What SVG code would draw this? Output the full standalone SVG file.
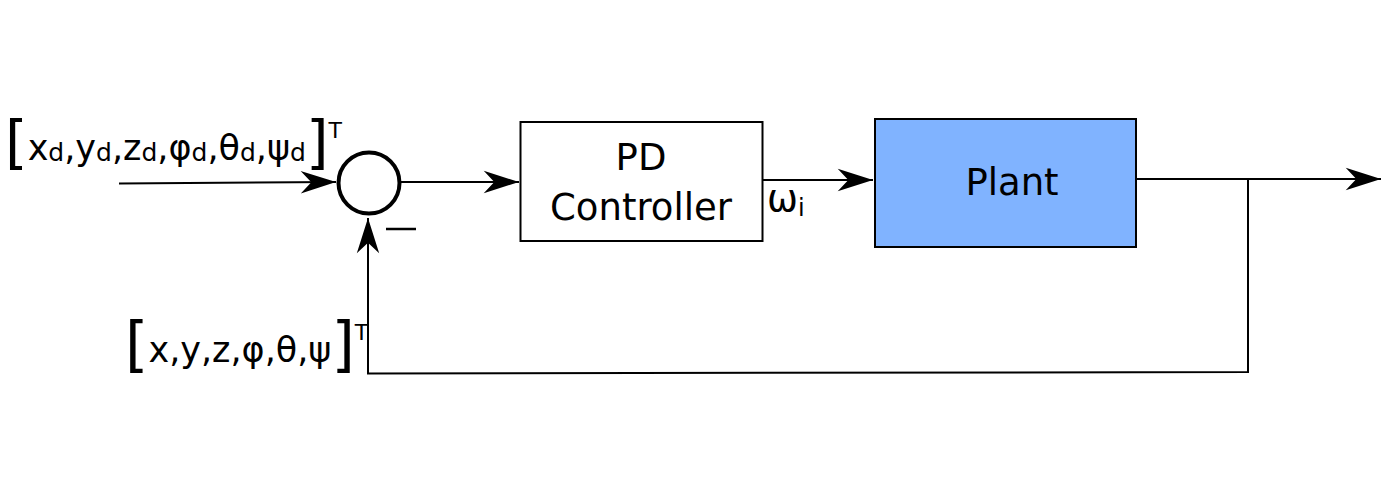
<svg xmlns="http://www.w3.org/2000/svg" width="1400" height="500" viewBox="0 0 1400 500">
<style>
text{font-family:"DejaVu Sans","Liberation Sans",sans-serif;fill:#000}
.box{stroke:#000;stroke-width:2}
.wire{fill:none;stroke:#000;stroke-width:2}
.sub{font-size:25px}
</style>
<defs>
<marker id="arr" markerUnits="userSpaceOnUse" markerWidth="40" markerHeight="30" viewBox="-32 -12 34 24" refX="0" refY="0" orient="auto">
<path d="M0,0 L-30,-9.5 L-21,0 L-30,9.5 Z" fill="#000"/>
</marker>
</defs>
<rect width="1400" height="500" fill="#fff"/>
<g id="connectors">
<path class="wire" d="M119,183.5 L336,182" marker-end="url(#arr)"/>
<path class="wire" d="M401,182 L519,182" marker-end="url(#arr)"/>
<path class="wire" d="M763,180 L873,180" marker-end="url(#arr)"/>
<path class="wire" d="M1137,179 L1381,179" marker-end="url(#arr)"/>
<path class="wire" d="M1248,179 L1248,372 L368,373.5 L368,218" marker-end="url(#arr)"/>
</g>
<g id="sum">
<circle cx="369" cy="183" r="30.5" fill="#fff" stroke="#000" stroke-width="4"/>
<line x1="386" y1="229" x2="416" y2="229" stroke="#000" stroke-width="2.5"/>
</g>
<g id="pd">
<rect class="box" x="520.5" y="122" width="242" height="119" fill="#fff"/>
<text x="641" y="170" font-size="37" text-anchor="middle">PD</text>
<text x="641" y="220" font-size="37" text-anchor="middle">Controller</text>
</g>
<g id="plant">
<rect class="box" x="875" y="119" width="261" height="128" fill="#80b3ff"/>
<text x="1012" y="195" font-size="37" text-anchor="middle">Plant</text>
</g>
<g id="labels">
<text x="5" y="160" font-size="35"><tspan font-size="58" dy="3">[</tspan><tspan dy="-3">x</tspan><tspan class="sub" dy="1">d</tspan><tspan dy="-1">,y</tspan><tspan class="sub" dy="1">d</tspan><tspan dy="-1">,z</tspan><tspan class="sub" dy="1">d</tspan><tspan dy="-1">,φ</tspan><tspan class="sub" dy="1">d</tspan><tspan dy="-1">,θ</tspan><tspan class="sub" dy="1">d</tspan><tspan dy="-1">,ψ</tspan><tspan class="sub" dy="1">d</tspan><tspan font-size="58" dy="2">]</tspan><tspan font-size="22" dy="-25">T</tspan></text>
<text x="125" y="362" font-size="35"><tspan font-size="60" dy="3">[</tspan><tspan dy="-3">x,y,z,φ,θ,ψ</tspan><tspan font-size="60" dy="3">]</tspan><tspan font-size="22" dy="-25">T</tspan></text>
<text x="767" y="211" font-size="37">ω<tspan font-size="24" dy="5">i</tspan></text>
</g>
</svg>
